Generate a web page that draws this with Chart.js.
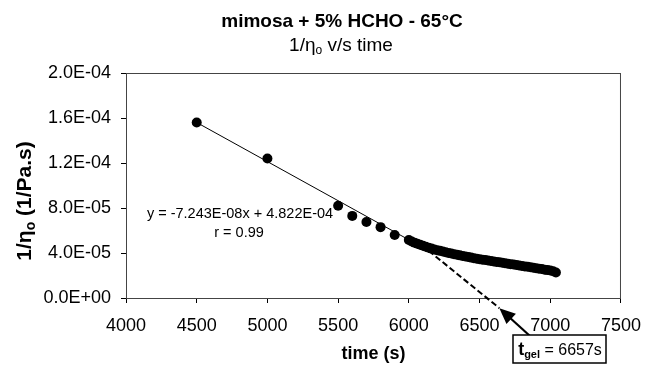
<!DOCTYPE html>
<html>
<head>
<meta charset="utf-8">
<script src="https://cdn.jsdelivr.net/npm/chart.js@4.4.0/dist/chart.umd.min.js"></script>
<style>body { margin: 0; background: #fff; }</style>
</head>
<body>
<canvas id="myChart" width="653" height="365"></canvas>
<script>
// measured points, time in s and 1/eta0 in 1/(Pa.s)
const timeS = [4500, 5000, 5500, 5600, 5700, 5800, 5900,
	6000, 6020, 6040, 6060, 6080, 6100, 6120, 6140, 6160, 6180,
	6200, 6220, 6240, 6260, 6280, 6300, 6320, 6340, 6360, 6380,
	6400, 6420, 6440, 6460, 6480, 6500, 6520, 6540, 6560, 6580,
	6600, 6620, 6640, 6660, 6680, 6700, 6720, 6740, 6760, 6780,
	6800, 6820, 6840, 6860, 6880, 6900, 6920, 6940, 6960, 6980,
	7000, 7020, 7040]
const invEta = [1.56e-4, 1.24e-4, 8.2e-5, 7.3e-5, 6.75e-5, 6.3e-5, 5.6e-5,
	5.15e-5, 5.02e-5, 4.92e-5, 4.82e-5, 4.73e-5, 4.64e-5, 4.55e-5, 4.47e-5, 4.39e-5, 4.31e-5,
	4.25e-5, 4.19e-5, 4.13e-5, 4.07e-5, 4.01e-5, 3.95e-5, 3.89e-5, 3.84e-5, 3.79e-5, 3.74e-5,
	3.69e-5, 3.64e-5, 3.59e-5, 3.54e-5, 3.49e-5, 3.45e-5, 3.41e-5, 3.37e-5, 3.33e-5, 3.29e-5,
	3.25e-5, 3.21e-5, 3.17e-5, 3.13e-5, 3.09e-5, 3.05e-5, 3.01e-5, 2.97e-5, 2.93e-5, 2.89e-5,
	2.85e-5, 2.81e-5, 2.77e-5, 2.73e-5, 2.69e-5, 2.65e-5, 2.61e-5, 2.57e-5, 2.52e-5, 2.48e-5,
	2.44e-5, 2.37e-5, 2.27e-5]

// linear fit as drawn: solid part, then dashed extrapolation towards t_gel
const fitTime = [4500, 6140]
const fitInvEta = [1.56e-4, 4.2e-5]
const extrapTime = [6140, 6640]
const extrapInvEta = [4.2e-5, -0.9e-5]

const xTickRange = [4000, 7500, 500]
const yTickRange = [0, 2e-4, 4e-5]

const titleText = 'mimosa + 5% HCHO - 65°C'
const fitLabel = 'y = -7.243E-08x + 4.822E-04'
const rLabel = 'r = 0.99'
const gelLabel = '= 6657s'

const FONT = '"Liberation Sans", Arial, Helvetica, sans-serif'

const toXY = (xs, ys) => xs.map((x, i) => ({ x: x, y: ys[i] }))

const fmtE = v => {
	const [m, e] = Number(v).toExponential(1).split('e')
	return m + 'E' + (+e < 0 ? '-' : '+') + String(Math.abs(+e)).padStart(2, '0')
}

// draws text pieces in a row, [text, font, dy]
const drawRun = (ctx, parts, x, y, align) => {
	let total = 0
	parts.forEach(p => { ctx.font = p[1]; total += ctx.measureText(p[0]).width })
	let cx = align === 'center' ? x - total / 2 : x
	ctx.textAlign = 'left'
	parts.forEach(p => {
		ctx.font = p[1]
		ctx.fillText(p[0], cx, y + (p[2] || 0))
		cx += ctx.measureText(p[0]).width
	})
}

const decorations = {
	id: 'decorations',
	beforeDatasetsDraw(chart) {
		const { ctx, chartArea: a } = chart
		ctx.save()
		ctx.strokeStyle = '#444'
		ctx.lineWidth = 1
		ctx.strokeRect(a.left + 0.5, a.top + 0.5, a.right - a.left - 1, a.bottom - a.top)
		ctx.restore()
	},
	afterDraw(chart) {
		const { ctx, scales } = chart
		ctx.save()
		ctx.fillStyle = '#000'
		ctx.textBaseline = 'alphabetic'

		// titles
		ctx.font = 'bold 19px ' + FONT
		ctx.textAlign = 'center'
		ctx.fillText(titleText, 342, 27)
		drawRun(ctx, [['1/η', '19px ' + FONT], ['o', '12px ' + FONT, 3], [' v/s time', '19px ' + FONT]], 341, 51, 'center')

		// y axis title
		ctx.save()
		ctx.translate(31, 201)
		ctx.rotate(-Math.PI / 2)
		drawRun(ctx, [['1/η', 'bold 21px ' + FONT], ['o', 'bold 14px ' + FONT, 4], [' (1/Pa.s)', 'bold 21px ' + FONT]], 0, 0, 'center')
		ctx.restore()

		// fit equation
		ctx.font = '14.5px ' + FONT
		ctx.textAlign = 'center'
		ctx.fillText(fitLabel, 240, 218)
		ctx.fillText(rLabel, 239, 237)

		// arrow towards end of the extrapolated line
		const tipX = scales.x.getPixelForValue(extrapTime[extrapTime.length - 1])
		const tipY = scales.y.getPixelForValue(extrapInvEta[extrapInvEta.length - 1])
		const tailX = 530, tailY = 336
		const ang = Math.atan2(tipY - tailY, tipX - tailX)
		const c = Math.cos(ang), s = Math.sin(ang)
		ctx.strokeStyle = '#000'
		ctx.lineWidth = 2.2
		ctx.beginPath()
		ctx.moveTo(tailX, tailY)
		ctx.lineTo(tipX - 12 * c, tipY - 12 * s)
		ctx.stroke()
		ctx.beginPath()
		ctx.moveTo(tipX, tipY)
		ctx.lineTo(tipX - 16 * c + 7 * s, tipY - 16 * s - 7 * c)
		ctx.lineTo(tipX - 16 * c - 7 * s, tipY - 16 * s + 7 * c)
		ctx.closePath()
		ctx.fill()

		// t_gel box
		ctx.fillStyle = '#fff'
		ctx.fillRect(513, 335, 93, 28)
		ctx.lineWidth = 1.5
		ctx.strokeRect(513, 335, 93, 28)
		ctx.fillStyle = '#000'
		drawRun(ctx, [['t', 'bold 18px ' + FONT], ['gel', 'bold 11px ' + FONT, 3], [' ' + gelLabel, '16px ' + FONT]], 560, 355, 'center')
		ctx.restore()
	}
}

const ctx = document.getElementById('myChart').getContext('2d')
new Chart(ctx, {
	type: 'scatter',
	data: {
		datasets: [
			{
				label: '1/eta0',
				data: toXY(timeS, invEta),
				pointRadius: 5,
				pointBackgroundColor: '#000',
				pointBorderWidth: 0,
				showLine: false
			},
			{
				label: 'fit',
				data: toXY(fitTime, fitInvEta),
				showLine: true,
				pointRadius: 0,
				borderColor: '#000',
				borderWidth: 1
			},
			{
				label: 'extrapolation',
				data: toXY(extrapTime, extrapInvEta),
				showLine: true,
				pointRadius: 0,
				borderColor: '#000',
				borderWidth: 2,
				borderDash: [6, 3],
				clip: false
			}
		]
	},
	options: {
		responsive: false,
		animation: false,
		layout: { padding: { top: 73, right: 24, left: 0, bottom: 0 } },
		plugins: {
			legend: { display: false },
			tooltip: { enabled: false }
		},
		scales: {
			x: {
				type: 'linear',
				min: xTickRange[0],
				max: xTickRange[1],
				ticks: {
					stepSize: xTickRange[2],
					color: '#000',
					font: { family: FONT, size: 18 },
					padding: 12,
					callback: v => String(v)
				},
				grid: { drawOnChartArea: false, tickLength: 5, color: '#000' },
				border: { color: '#000', width: 1 },
				title: {
					display: true,
					text: 'time (s)',
					color: '#000',
					font: { family: FONT, size: 18, weight: 'bold' },
					padding: 0
				},
				afterFit(scale) { scale.height = 67 }
			},
			y: {
				min: yTickRange[0],
				max: yTickRange[1],
				ticks: {
					stepSize: yTickRange[2],
					color: '#000',
					font: { family: FONT, size: 18 },
					padding: 10,
					callback: fmtE
				},
				grid: { drawOnChartArea: false, tickLength: 5, color: '#000' },
				border: { color: '#000', width: 1 },
				afterFit(scale) { scale.width = 126 }
			}
		}
	},
	plugins: [decorations]
})
</script>
</body>
</html>
